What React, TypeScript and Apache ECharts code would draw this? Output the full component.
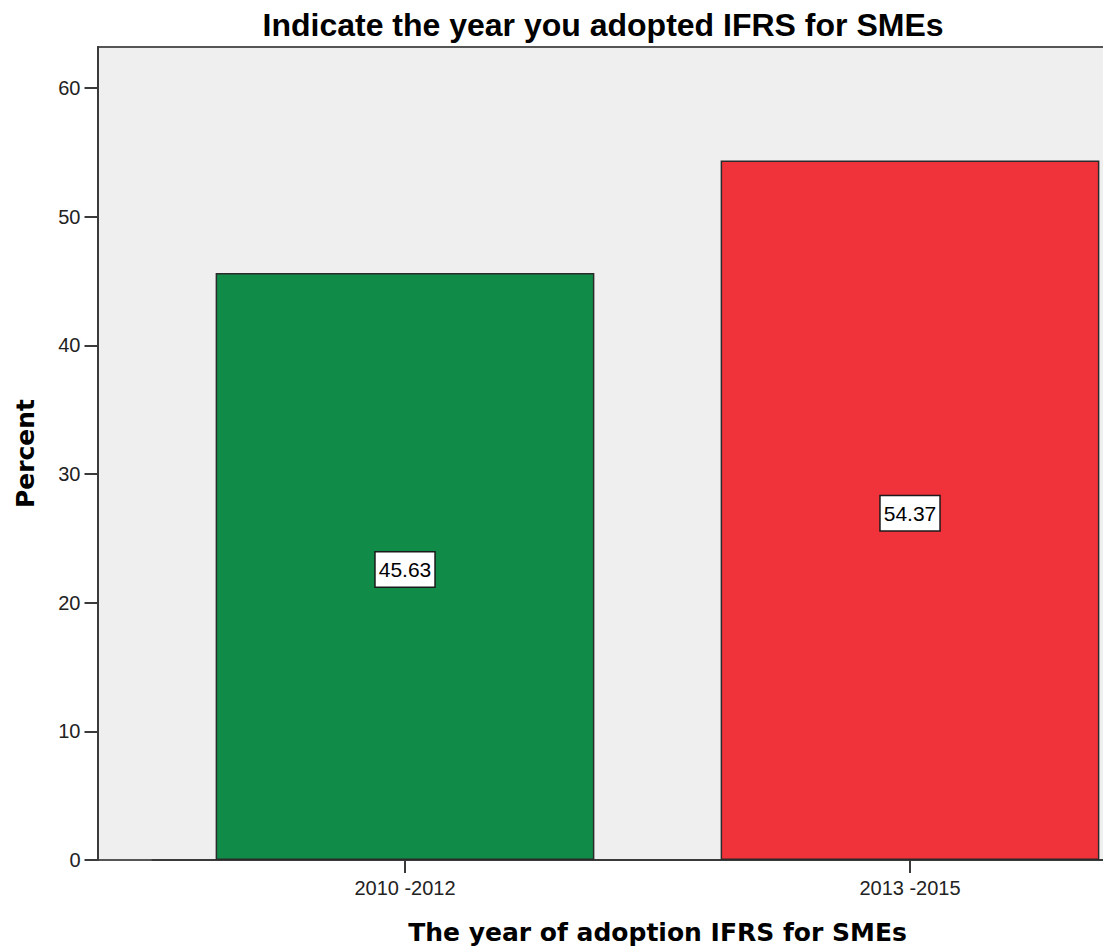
import React, { useEffect, useRef } from "react";
import * as echarts from "echarts";

// Share of respondents by IFRS-for-SMEs adoption period
const categories: string[] = ["2010 -2012", "2013 -2015"];
const percentValues: number[] = [45.63, 54.37];
const barColors: string[] = ["#108C48", "#F0323A"];
const yTicks: number[] = [0, 10, 20, 30, 40, 50, 60];

const chartTitle = "Indicate the year you adopted IFRS for SMEs";
const xAxisTitle = "The year of adoption IFRS for SMEs";
const yAxisTitle = "Percent";

const AXIS_COLOR = "#3a3a3a";
const SANS = "'Liberation Sans', Arial, sans-serif";
const BOLD_SANS = "'DejaVu Sans', Verdana, sans-serif";

export default function App() {
  const ref = useRef<HTMLDivElement>(null);

  useEffect(() => {
    if (!ref.current) return;
    const chart = echarts.init(ref.current, null, { renderer: "svg" });

    chart.setOption({
      animation: false,
      backgroundColor: "#ffffff",
      graphic: [
        {
          type: "text",
          x: 603,
          y: 25,
          style: {
            text: chartTitle,
            fontFamily: SANS,
            fontWeight: "bold",
            fontSize: 32,
            fill: "#000000",
            align: "center",
            verticalAlign: "middle",
          },
        },
      ],
      grid: [
        {
          left: 152.5,
          top: 47,
          width: 1010,
          height: 813,
          show: false,
          outerBoundsMode: "none",
        },
        {
          // shaded plot frame that starts at the value axis
          left: 98,
          top: 47,
          width: 1100,
          height: 813,
          show: true,
          backgroundColor: "#EFEFEF",
          borderColor: "#555555",
          borderWidth: 2,
          outerBoundsMode: "none",
        },
      ],
      xAxis: {
        type: "category",
        gridIndex: 0,
        data: categories,
        name: xAxisTitle,
        nameLocation: "middle",
        nameGap: 60,
        nameTextStyle: {
          fontFamily: BOLD_SANS,
          fontWeight: "bold",
          fontSize: 25,
          color: "#000000",
        },
        axisLine: { show: true, lineStyle: { color: AXIS_COLOR, width: 2 } },
        axisTick: {
          show: true,
          alignWithLabel: true,
          length: 13,
          lineStyle: { color: AXIS_COLOR, width: 2 },
        },
        axisLabel: {
          margin: 18,
          fontFamily: SANS,
          fontSize: 20,
          color: "#222222",
        },
        splitLine: { show: false },
      },
      yAxis: {
        type: "value",
        gridIndex: 0,
        min: 0,
        max: 63.2,
        offset: 55,
        name: yAxisTitle,
        nameLocation: "middle",
        nameGap: 60,
        nameTextStyle: {
          fontFamily: BOLD_SANS,
          fontWeight: "bold",
          fontSize: 25,
          color: "#000000",
        },
        axisLine: { show: true, lineStyle: { color: AXIS_COLOR, width: 2 } },
        axisTick: {
          show: true,
          length: 13,
          customValues: yTicks,
          lineStyle: { color: AXIS_COLOR, width: 2 },
        },
        axisLabel: {
          margin: 17,
          customValues: yTicks,
          fontFamily: SANS,
          fontSize: 20,
          color: "#222222",
        },
        splitLine: { show: false },
      },
      series: [
        {
          type: "bar",
          xAxisIndex: 0,
          yAxisIndex: 0,
          barWidth: "75%",
          data: percentValues.map((v, i) => ({
            value: v,
            itemStyle: { color: barColors[i] },
          })),
          itemStyle: { borderColor: "#2b2b2b", borderWidth: 1.5 },
          label: {
            show: true,
            position: "inside",
            offset: [0, 3],
            formatter: (p: any) => Number(p.value).toFixed(2),
            fontFamily: SANS,
            fontSize: 21,
            color: "#000000",
            backgroundColor: "#ffffff",
            borderColor: "#1a1a1a",
            borderWidth: 1.5,
            padding: [5, 3, 5, 3],
            lineHeight: 24,
          },
        },
      ],
    });

    return () => chart.dispose();
  }, []);

  // The plotting canvas runs past the visible frame on the right, as the
  // category axis extends beyond the page edge.
  return (
    <div
      style={{
        position: "absolute",
        left: 0,
        top: 0,
        width: 1103,
        height: 950,
        overflow: "hidden",
      }}
    >
      <div ref={ref} style={{ width: 1200, height: 950 }} />
    </div>
  );
}
